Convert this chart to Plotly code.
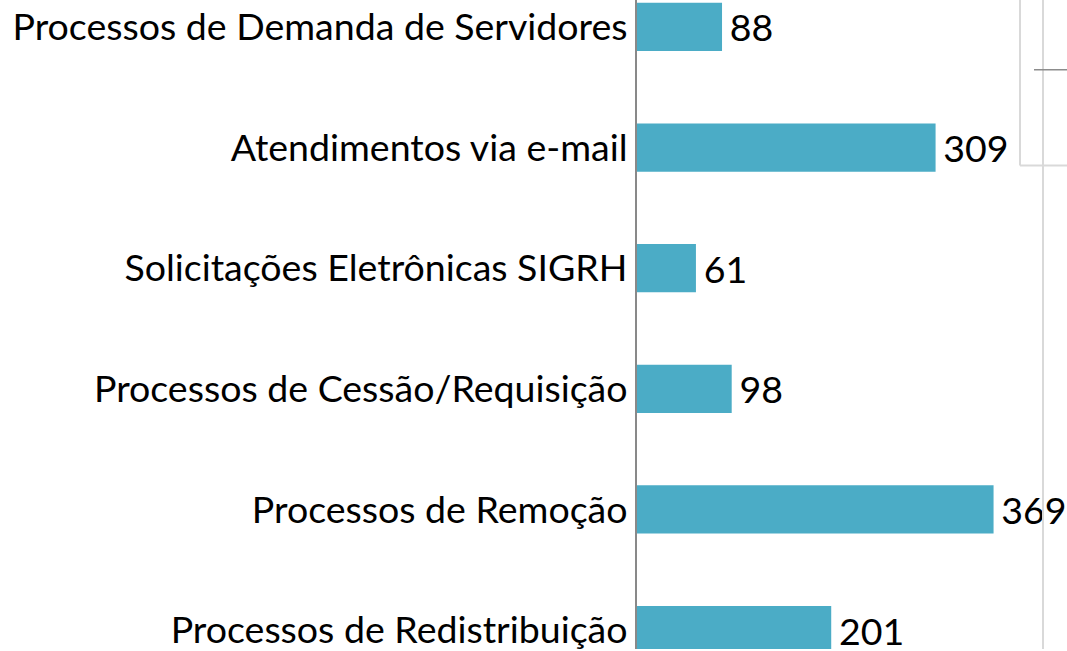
import plotly.graph_objects as go

categories = [
    "Processos de Demanda de Servidores",
    "Atendimentos via e-mail",
    "Solicitações Eletrônicas SIGRH",
    "Processos de Cessão/Requisição",
    "Processos de Remoção",
    "Processos de Redistribuição",
]
values = [88, 309, 61, 98, 369, 201]

W, H = 1067, 651
L = 637
FONT = "Lato"
FS = 37.5

def px(x):
    return (x - L) / (W - L)

def py(y):
    return 1 - y / H

fig = go.Figure(go.Bar(
    x=values,
    y=list(range(len(categories))),
    orientation="h",
    width=0.40,
    marker=dict(color="#4BACC6", line=dict(width=0)),
    text=["\u2009" + str(v) for v in values],
    textposition="outside",
    constraintext="none",
    cliponaxis=False,
    textfont=dict(family=FONT, size=FS, color="#000000"),
))

fig.update_layout(
    width=W, height=H,
    margin=dict(l=L, r=0, t=0, b=0),
    paper_bgcolor="white", plot_bgcolor="white",
    showlegend=False,
    font=dict(family=FONT, size=FS, color="#000000"),
    xaxis=dict(range=[0, 445], showgrid=False, zeroline=False, showticklabels=False,
               showline=False, fixedrange=True),
    yaxis=dict(range=[5.157, -0.223], tickmode="array",
               tickvals=list(range(len(categories))), ticktext=categories,
               showgrid=False, zeroline=False, showline=True, linecolor="#898989",
               linewidth=2, ticks="", ticklabelstandoff=0, ticklabeloverflow="allow",
               tickfont=dict(family=FONT, size=FS, color="#000000")),
    shapes=[
        dict(type="line", xref="paper", yref="paper", x0=px(1043), x1=px(1043), y0=0, y1=1,
             line=dict(color="#d9d9d9", width=2)),
        dict(type="line", xref="paper", yref="paper", x0=px(1020), x1=px(1020), y0=py(166), y1=1,
             line=dict(color="#d9d9d9", width=2)),
        dict(type="line", xref="paper", yref="paper", x0=px(1020), x1=1, y0=py(166), y1=py(166),
             line=dict(color="#d9d9d9", width=2)),
        dict(type="line", xref="paper", yref="paper", x0=px(1034), x1=1, y0=py(70), y1=py(70),
             line=dict(color="#8c8c8c", width=1.5)),
    ],
)

fig.write_html(
    "out.html",
    config={"displayModeBar": False},
    post_script="document.body.style.margin='0';document.body.style.overflow='hidden';",
)
